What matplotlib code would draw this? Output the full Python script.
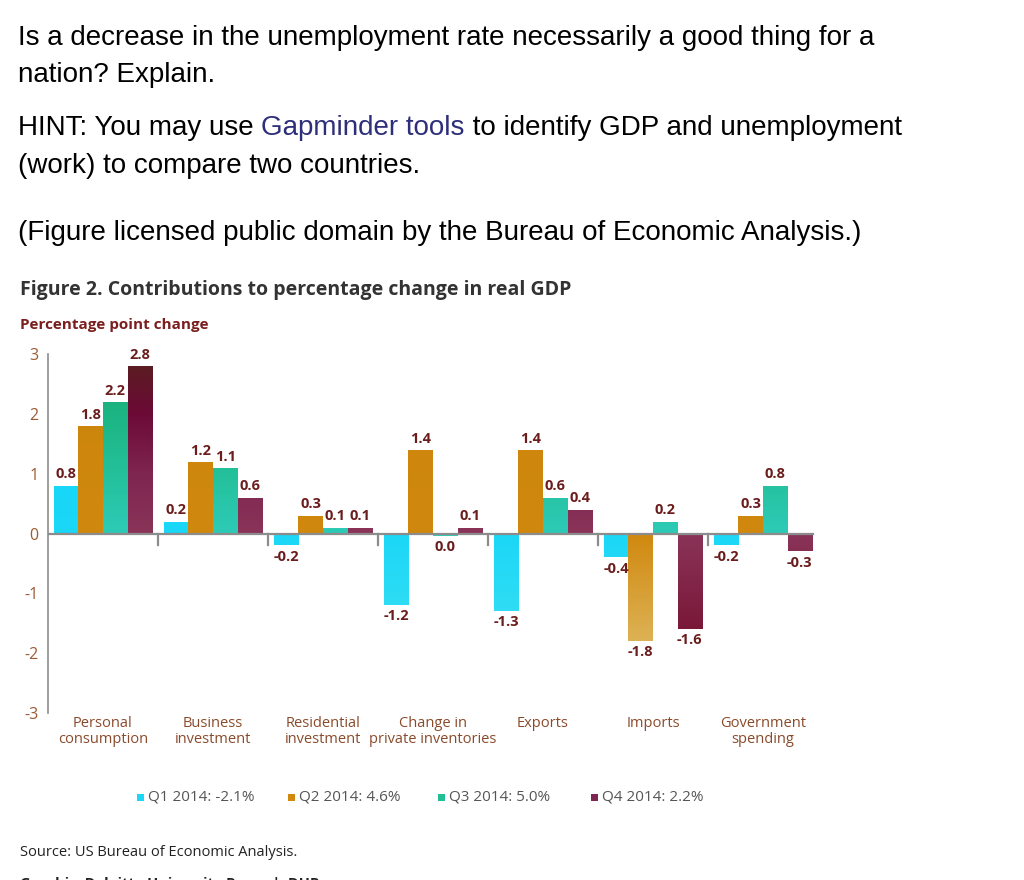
import numpy as np
import matplotlib
matplotlib.use("Agg")
import matplotlib.pyplot as plt
from matplotlib.colors import LinearSegmentedColormap
from matplotlib.patches import Rectangle

# ───── Data ─────
categories = ["Personal\nconsumption", "Business\ninvestment", "Residential\ninvestment",
              "Change in\nprivate inventories", "Exports", "Imports", "Government\nspending"]
q1 = [0.8, 0.2, -0.2, -1.2, -1.3, -0.4, -0.2]
q2 = [1.8, 1.2, 0.3, 1.4, 1.4, -1.8, 0.3]
q3 = [2.2, 1.1, 0.1, -0.04, 0.6, 0.2, 0.8]
q4 = [2.8, 0.6, 0.1, 0.1, 0.4, -1.6, -0.3]
series_names = ["Q1 2014: -2.1%", "Q2 2014: 4.6%", "Q3 2014: 5.0%", "Q4 2014: 2.2%"]
yticks = [3, 2, 1, 0, -1, -2, -3]

# ───── Styles ─────
W, H = 1024, 880
TOP_FONT = ["Liberation Sans", "DejaVu Sans"]
CH_FONT = ["Open Sans", "DejaVu Sans"]

base_colors = ["#1CD6F6", "#D0880E", "#22BE95", "#7E2550"]
stops = [
    [(0, "#4AE3F0"), (0.5, "#1BD7F7"), (1, "#10D5F8")],
    [(0, "#E6C474"), (0.2, "#DDB255"), (0.5, "#D0880E"), (1, "#CC850C")],
    [(0, "#30CFC4"), (0.5, "#2DCBB7"), (0.7, "#22BE95"), (0.87, "#1BB27E"), (1, "#1AAF78")],
    [(0, "#75102F"), (0.233, "#7A1838"), (0.5, "#8A3459"), (0.667, "#7E2550"),
     (0.833, "#6C0A36"), (0.967, "#5B1C22"), (1, "#5A1C20")],
]
cmaps = [LinearSegmentedColormap.from_list(f"s{i}", s) for i, s in enumerate(stops)]

LABEL_C = "#6B1D1D"
CAT_C = "#8A4A2A"
TICK_C = "#9A5B35"


def fy(px):
    return 1 - px / H


def fx(px):
    return px / W


fig = plt.figure(figsize=(W / 100, H / 100), dpi=100)
fig.patch.set_facecolor("white")

# ───── Question text ─────
TS = 20
fig.text(fx(18), fy(38), "Is a decrease in the unemployment rate necessarily a good thing for a",
         fontsize=TS, family=TOP_FONT, va="center", color="black")
fig.text(fx(18), fy(75), "nation? Explain.", fontsize=TS, family=TOP_FONT, va="center", color="black")

renderer = fig.canvas.get_renderer()
x_cur = fx(18)
for piece, col in [("HINT: You may use ", "black"), ("Gapminder tools", "#2E2F7A"),
                   (" to identify GDP and unemployment", "black")]:
    t = fig.text(x_cur, fy(128), piece, fontsize=TS, family=TOP_FONT, va="center", color=col)
    bb = t.get_window_extent(renderer)
    x_cur = bb.x1 / W
fig.text(fx(18), fy(166), "(work) to compare two countries.", fontsize=TS, family=TOP_FONT,
         va="center", color="black")
fig.text(fx(18), fy(233), "(Figure licensed public domain by the Bureau of Economic Analysis.)",
         fontsize=TS, family=TOP_FONT, va="center", color="black")

# ───── Chart headings ─────
fig.text(fx(20), fy(290), "Figure 2. Contributions to percentage change in real GDP",
         fontsize=14, weight="bold", family=CH_FONT, va="center", color="#333333")
fig.text(fx(20), fy(325), "Percentage point change", fontsize=11, weight="bold",
         family=CH_FONT, va="center", color="#7A1E1E")

# ───── Bars ─────
ax = fig.add_axes([fx(48), fy(713), fx(818) - fx(48), fy(354) - fy(713)])
x = np.arange(len(categories))
bw = 0.223
offsets = (np.arange(4) - 1.5) * bw
grad = np.linspace(-3, 3, 256).reshape(-1, 1)

for i, vals in enumerate([q1, q2, q3, q4]):
    bars = ax.bar(x + offsets[i], vals, bw, color=base_colors[i], linewidth=0, zorder=2)
    for b, v in zip(bars, vals):
        x0, w = b.get_x(), b.get_width()
        im = ax.imshow(grad, extent=[x0, x0 + w, -3, 3], origin="lower", cmap=cmaps[i],
                       vmin=-3, vmax=3, aspect="auto", zorder=2.1, interpolation="bilinear")
        im.set_clip_path(b)
        txt = f"{abs(v):.1f}" if abs(v) < 0.05 else f"{v:.1f}"
        if v >= 0:
            ax.annotate(txt, (x0 + w / 2, v), xytext=(0, 3), textcoords="offset points",
                        ha="center", va="bottom", fontsize=10.5, weight="bold",
                        color=LABEL_C, family=CH_FONT)
        else:
            ax.annotate(txt, (x0 + w / 2, v), xytext=(0, -3), textcoords="offset points",
                        ha="center", va="top", fontsize=10.5, weight="bold",
                        color=LABEL_C, family=CH_FONT)

ax.set_xlim(-0.5, len(categories) - 0.5)
ax.set_ylim(-3, 3)

# zero line and group separators
ax.plot([-0.5, len(categories) - 0.55], [0, 0], color="#8C8C8C", lw=1.6, zorder=3)
for b in np.arange(0.5, len(categories) - 0.5):
    ax.plot([b, b], [0, -0.2], color="#8C8C8C", lw=1.6, zorder=3)

for s in ["top", "right", "bottom"]:
    ax.spines[s].set_visible(False)
ax.spines["left"].set_color("#8C8C8C")
ax.spines["left"].set_linewidth(1.2)
ax.set_xticks([])
ax.set_yticks(yticks)
ax.set_yticklabels([str(t) for t in yticks], family=CH_FONT, fontsize=11.5, color=TICK_C)
ax.tick_params(axis="y", length=0, pad=7)

for xi, cat in zip(x, categories):
    ax.text(xi, -3.05, cat, ha="center", va="top", fontsize=10.5, color=CAT_C,
            family=CH_FONT, linespacing=1.1)

# ───── Legend ─────
for i, (name, px) in enumerate(zip(series_names, [140, 291, 441, 594])):
    fig.patches.append(Rectangle((fx(px - 3), fy(801)), fx(7), 7 / H, transform=fig.transFigure,
                                 facecolor=base_colors[i], edgecolor="none"))
    fig.text(fx(px + 8), fy(797), name, fontsize=11, va="center", color="#555555",
             family=CH_FONT)

# ───── Source ─────
fig.text(fx(20), fy(852), "Source: US Bureau of Economic Analysis.", fontsize=10.5,
         va="center", color="#222222", family=CH_FONT)
fig.text(fx(20), fy(884), "Graphic: Deloitte University Press  |  DUPress.com", fontsize=10.5,
         weight="bold", va="center", color="#222222", family=CH_FONT)

fig.savefig("out.png", dpi=100)
